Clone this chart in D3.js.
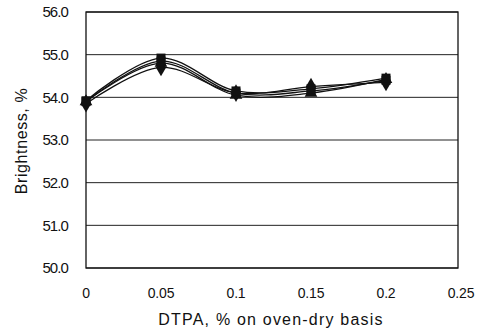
<!DOCTYPE html>
<html><head><meta charset="utf-8">
<script src="https://cdn.jsdelivr.net/npm/d3@7/dist/d3.min.js"></script>
<style>body{margin:0;background:#fff}svg{display:block}text{font-family:"Liberation Sans",Arial,sans-serif;fill:#111}</style>
</head><body><svg id="c" width="481" height="333"></svg>
<script>
const xValues = [0, 0.05, 0.1, 0.15, 0.2];
const seriesA = [53.85, 54.70, 54.10, 54.25, 54.35];
const seriesB = [53.90, 54.85, 54.10, 54.15, 54.40];
const seriesC = [53.90, 54.80, 54.05, 54.10, 54.42];
const seriesD = [53.92, 54.92, 54.15, 54.20, 54.45];
const xTicks = [0, 0.05, 0.1, 0.15, 0.2, 0.25];
const xTickLabels = ["0", "0.05", "0.1", "0.15", "0.2", "0.25"];
const yTicks = [50, 51, 52, 53, 54, 55, 56];
const yTickLabels = ["50.0", "51.0", "52.0", "53.0", "54.0", "55.0", "56.0"];

const svg = d3.select("#c");
const L = 86, R = 458, T = 12, B = 268;
const x = d3.scaleLinear().domain([0, 0.25]).range([L, R + 3]);
const y = d3.scaleLinear().domain([50, 56]).range([B, T]);

svg.append("g").selectAll("line").data(yTicks).join("line")
  .attr("x1", L).attr("x2", R).attr("y1", d => y(d)).attr("y2", d => y(d))
  .attr("stroke", "#222").attr("stroke-width", 1);
svg.append("rect").attr("x", L).attr("y", T).attr("width", R - L).attr("height", B - T)
  .attr("fill", "none").attr("stroke", "#111").attr("stroke-width", 1.3);

svg.append("g").selectAll("text").data(yTicks).join("text")
  .attr("x", 68).attr("y", d => y(d)).attr("dy", "0.36em").attr("text-anchor", "end")
  .attr("font-size", 15).attr("letter-spacing", "-0.9")
  .text((d, i) => yTickLabels[i]);
svg.append("g").selectAll("text").data(xTicks).join("text")
  .attr("x", d => x(d)).attr("y", 298).attr("text-anchor", "middle")
  .attr("font-size", 14).attr("letter-spacing", "-0.2")
  .text((d, i) => xTickLabels[i]);

svg.append("text").attr("x", 271).attr("y", 325).attr("text-anchor", "middle")
  .attr("font-size", 16).attr("letter-spacing", "1.2").text("DTPA, % on oven-dry basis");
svg.append("text").attr("transform", "translate(27,141) rotate(-90)").attr("text-anchor", "middle")
  .attr("font-size", 16).attr("letter-spacing", "0.6").text("Brightness, %");

const series = [seriesA, seriesB, seriesC, seriesD];
const line = d3.line().x((d, i) => x(xValues[i])).y(d => y(d)).curve(d3.curveCatmullRom.alpha(0.5));
svg.append("g").selectAll("path").data(series).join("path")
  .attr("d", line).attr("fill", "none").attr("stroke", "#111").attr("stroke-width", 1.3);

const sym = [d3.symbolDiamond, d3.symbolSquare, d3.symbolTriangle, d3.symbolSquare];
const sizes = [90, 81, 70, 81];
series.forEach((s, k) => {
  svg.append("g").selectAll("path").data(s).join("path")
    .attr("transform", (d, i) => `translate(${x(xValues[i])},${y(d)})`)
    .attr("d", d3.symbol().type(sym[k]).size(sizes[k])).attr("fill", "#111");
});
</script></body></html>
